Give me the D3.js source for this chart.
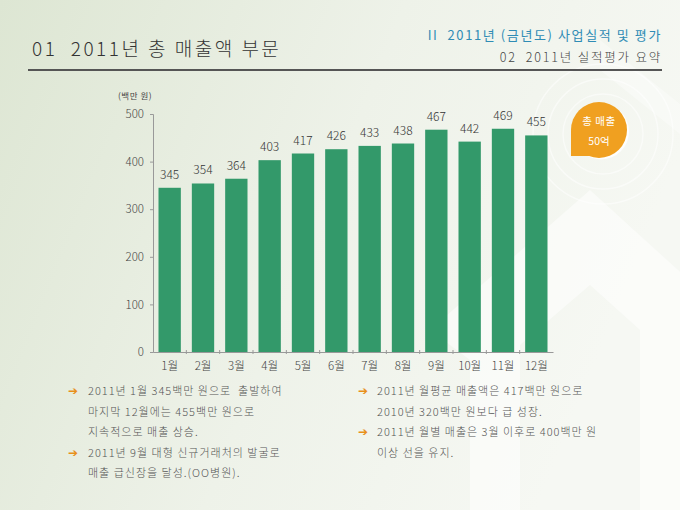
<!DOCTYPE html>
<html>
<head>
<meta charset="utf-8">
<script src="https://cdn.jsdelivr.net/npm/d3@7"></script>
<style>
  body { margin: 0; padding: 0; overflow: hidden; }
  svg { display: block; font-family: "Noto Sans CJK KR", "Noto Sans", sans-serif; }
</style>
</head>
<body>
<div id="main"></div>
<script>
// data
var months = ["1월", "2월", "3월", "4월", "5월", "6월", "7월", "8월", "9월", "10월", "11월", "12월"];
var sales = [345, 354, 364, 403, 417, 426, 433, 438, 467, 442, 469, 455];
var yTicks = [0, 100, 200, 300, 400, 500];
var leftNotes = [
    ["2011년 1월 345백만 원으로  출발하여", "마지막 12월에는 455백만 원으로", "지속적으로 매출 상승."],
    ["2011년 9월 대형 신규거래처의 발굴로", "매출 급신장을 달성.(OO병원)."]
];
var rightNotes = [
    ["2011년 월평균 매출액은 417백만 원으로", "2010년 320백만 원보다 급 성장."],
    ["2011년 월별 매출은 3월 이후로 400백만 원", "이상 선을 유지."]
];

var ctx = {
    w: 680,
    h: 510,
    left: 153,
    right: 553,
    top: 114,
    bottom: 352,
    bar: "#33996a",
    orange: "#f0a020",
    text: "#444"
};

var svg = d3.select("#main").append("svg")
    .attr("width", ctx.w)
    .attr("height", ctx.h);

// background
var defs = svg.append("defs");
var bg = defs.append("linearGradient").attr("id", "bg")
    .attr("x1", "0").attr("y1", "0").attr("x2", "1").attr("y2", "0.3");
bg.append("stop").attr("offset", "0").attr("stop-color", "#dde6d3");
bg.append("stop").attr("offset", "0.55").attr("stop-color", "#eef2e9");
bg.append("stop").attr("offset", "1").attr("stop-color", "#f6f8f3");
svg.append("rect").attr("width", ctx.w).attr("height", ctx.h).attr("fill", "url(#bg)");

// faint arrow decoration on the right
svg.append("path")
    .attr("d", "M430,330 L590,190 L700,290 L700,510 L640,510 L640,330 L590,285 L520,345 L520,510 L470,510 L470,360 Z")
    .attr("fill", "#ffffff").attr("opacity", 0.5);
svg.append("path")
    .attr("d", "M600,40 L700,120 L700,150 L600,70 Z")
    .attr("fill", "#ffffff").attr("opacity", 0.35);
[40, 55, 70].forEach(function(r) {
    svg.append("circle").attr("cx", 603).attr("cy", 134).attr("r", r)
        .attr("fill", "none").attr("stroke", "#ffffff").attr("stroke-width", 1.5).attr("opacity", 0.5);
});

// header
svg.append("text").attr("x", 32).attr("y", 56)
    .attr("font-size", 19).attr("fill", "#333").attr("xml:space", "preserve")
    .attr("letter-spacing", 2.5).attr("font-weight", 300)
    .text("01  2011년 총 매출액 부문");
svg.append("text").attr("x", 662).attr("y", 40).attr("text-anchor", "end")
    .attr("font-size", 13).attr("fill", "#2f8cb5").attr("xml:space", "preserve")
    .attr("letter-spacing", 1.6)
    .text("II  2011년 (금년도) 사업실적 및 평가");
svg.append("text").attr("x", 662).attr("y", 62).attr("text-anchor", "end")
    .attr("font-size", 12.5).attr("fill", "#444").attr("xml:space", "preserve")
    .attr("letter-spacing", 1.8).attr("font-weight", 300)
    .text("02  2011년 실적평가 요약");
svg.append("line").attr("x1", 28).attr("x2", 662).attr("y1", 70).attr("y2", 70)
    .attr("stroke", "#555").attr("stroke-width", 2);

// scales
var x = d3.scaleBand().domain(months).range([ctx.left, ctx.right]).paddingInner(0.33).paddingOuter(0.165);
var xTickScale = d3.scaleBand().domain(months).range([ctx.left, ctx.right]);
var y = d3.scaleLinear().domain([0, 500]).range([ctx.bottom, ctx.top]);

// bars
svg.append("g").selectAll("rect")
    .data(sales)
    .enter()
    .append("rect")
    .attr("x", function(d, i) { return x(months[i]); })
    .attr("y", function(d) { return y(d); })
    .attr("width", x.bandwidth())
    .attr("height", function(d) { return ctx.bottom - y(d); })
    .attr("fill", ctx.bar);

// value labels
svg.append("g").selectAll("text")
    .data(sales)
    .enter()
    .append("text")
    .attr("x", function(d, i) { return x(months[i]) + x.bandwidth() / 2; })
    .attr("y", function(d) { return y(d) - 9; })
    .attr("text-anchor", "middle")
    .attr("font-size", 12)
    .attr("font-weight", 300)
    .attr("fill", "#333")
    .text(function(d) { return d; });

// y axis
var yAxis = svg.append("g")
    .attr("transform", "translate(" + ctx.left + ",0)")
    .call(d3.axisLeft(y).tickValues(yTicks).tickSize(3).tickPadding(6));
yAxis.select(".domain").attr("stroke", "#999");
yAxis.selectAll(".tick line").attr("stroke", "#999");
yAxis.selectAll(".tick text").attr("font-size", 11.5).attr("fill", ctx.text)
    .attr("font-weight", 300)
    .attr("font-family", "\"Noto Sans CJK KR\", sans-serif");

// x axis: ticks on band boundaries, labels centered
var xAxis = svg.append("g")
    .attr("transform", "translate(0," + ctx.bottom + ")")
    .call(d3.axisBottom(xTickScale).tickSize(0).tickPadding(10).tickSizeOuter(0));
xAxis.select(".domain").attr("stroke", "#999");
xAxis.selectAll(".tick text").attr("font-size", 11.5).attr("fill", ctx.text)
    .attr("font-weight", 300)
    .attr("font-family", "\"Noto Sans CJK KR\", sans-serif");
xAxis.selectAll(".bound")
    .data(months.slice(1))
    .enter()
    .append("line")
    .attr("class", "bound")
    .attr("x1", function(d) { return xTickScale(d); })
    .attr("x2", function(d) { return xTickScale(d); })
    .attr("y1", -2).attr("y2", 2)
    .attr("stroke", "#999");

// unit label
svg.append("text").attr("x", 118).attr("y", 99)
    .attr("font-size", 8.5).attr("fill", "#444").attr("letter-spacing", 0.5).text("(백만 원)");

// bubble
var bubble = svg.append("g").attr("transform", "translate(599,130)");
bubble.append("circle").attr("r", 28).attr("fill", "#ffffff").attr("opacity", 0.9)
    .attr("transform", "translate(2,1.5)");
bubble.append("circle").attr("r", 28).attr("fill", ctx.orange);
bubble.append("path")
    .attr("d", "M-28,0 L-28,26 L-5,26 Z")
    .attr("fill", ctx.orange);
bubble.append("text").attr("y", -5).attr("text-anchor", "middle")
    .attr("font-size", 10.5).attr("fill", "#fff").attr("letter-spacing", 0.5).text("총 매출");
bubble.append("text").attr("y", 15).attr("text-anchor", "middle")
    .attr("font-size", 10.5).attr("fill", "#fff").text("50억");

// notes
var drawNotes = function(notes, ax, tx) {
    var yy = 395;
    notes.forEach(function(block) {
        svg.append("text").attr("x", ax).attr("y", yy)
            .attr("font-size", 12).attr("fill", "#e8901a").attr("font-family", "DejaVu Sans")
            .text("➔");
        block.forEach(function(line) {
            svg.append("text").attr("x", tx).attr("y", yy)
                .attr("font-size", 11).attr("fill", "#555").attr("xml:space", "preserve")
                .attr("letter-spacing", 1.0).attr("font-weight", 300)
                .text(line);
            yy += 20.5;
        });
    });
};
drawNotes(leftNotes, 68, 88);
drawNotes(rightNotes, 358, 377);
</script>
</body>
</html>
